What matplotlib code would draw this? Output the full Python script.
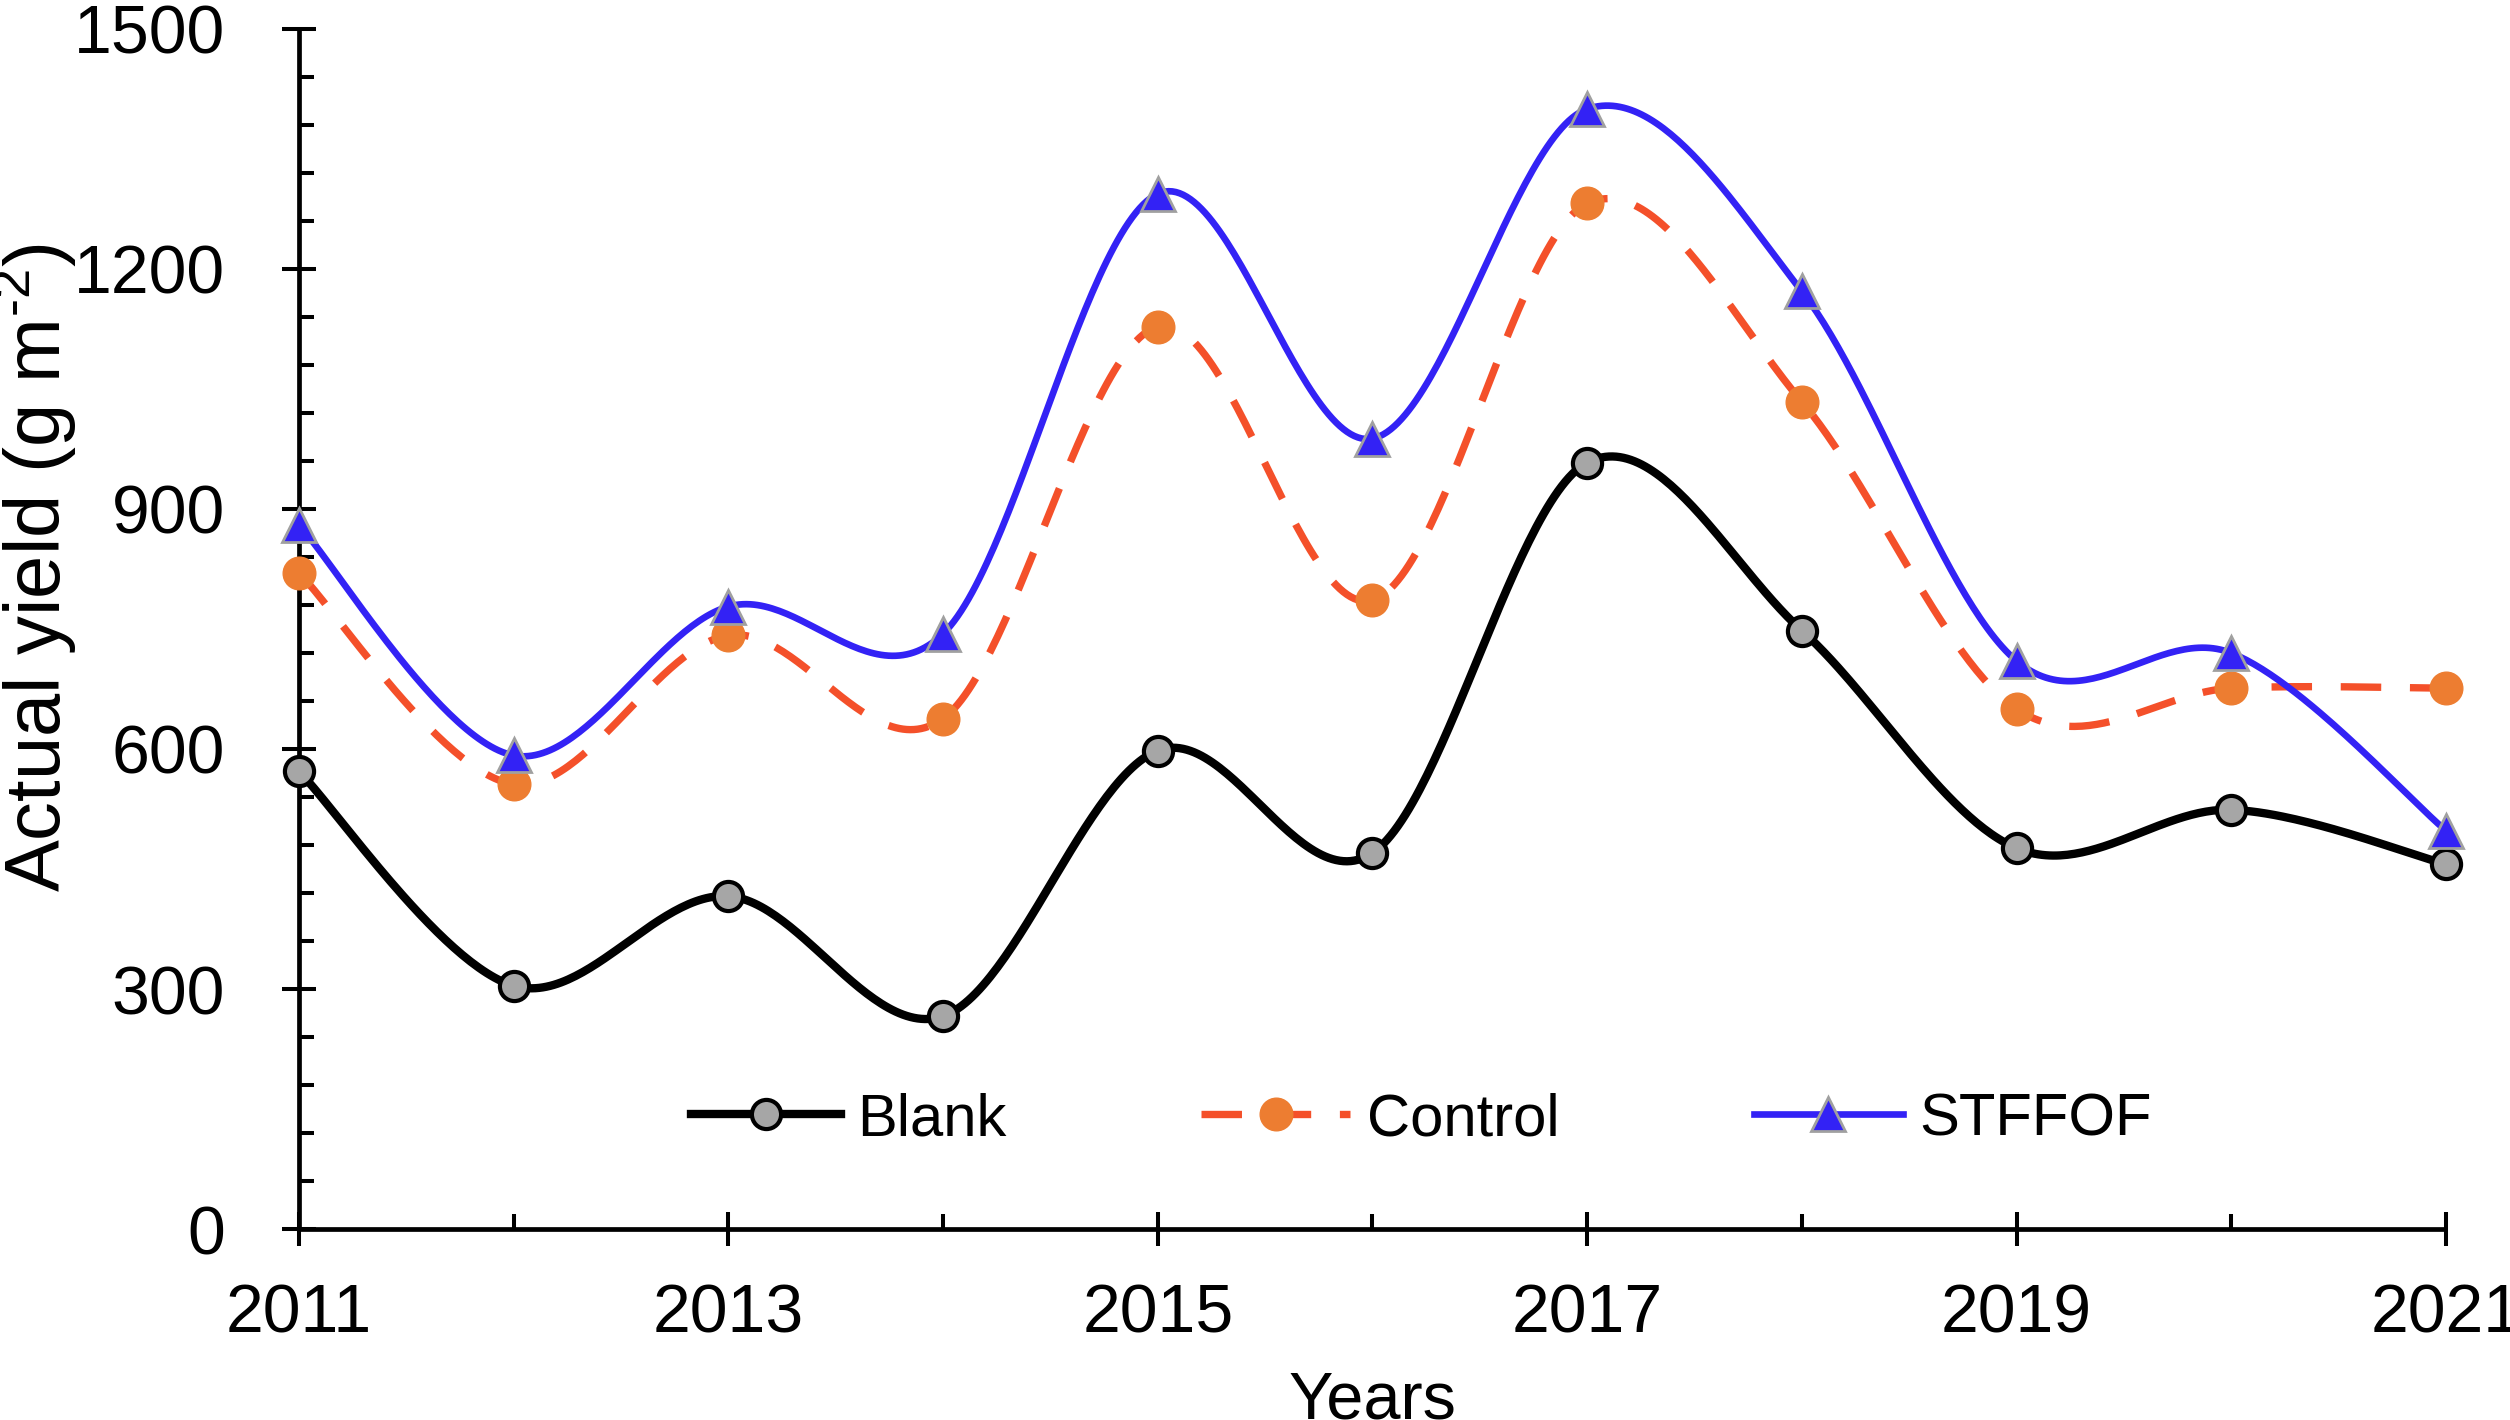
import numpy as np
import matplotlib
matplotlib.use("Agg")
import matplotlib.pyplot as plt
from matplotlib.ticker import FixedLocator, MultipleLocator
from matplotlib.lines import Line2D

plt.rcParams['font.family'] = ['Liberation Sans', 'DejaVu Sans']
plt.rcParams['mathtext.fontset'] = 'custom'
plt.rcParams['mathtext.rm'] = 'Liberation Sans'

years = [2011, 2012, 2013, 2014, 2015, 2016, 2017, 2018, 2019, 2020, 2021]
blank = [572, 304, 416, 266, 598, 470, 958, 748, 476, 524, 456]
control = [820, 556, 742, 638, 1128, 786, 1282, 1034, 650, 676, 676]
stffof = [880, 592, 778, 744, 1294, 988, 1400, 1172, 710, 720, 498]
major_years = [2011, 2013, 2015, 2017, 2019, 2021]
minor_years = [2012, 2014, 2016, 2018, 2020]


def smooth(x, y, n=60):
    x = np.asarray(x, float)
    y = np.asarray(y, float)
    P = np.column_stack([x, y])
    Pe = np.vstack([P[0], P, P[-1]])
    out = []
    t = np.linspace(0, 1, n)[:, None]
    for i in range(len(P) - 1):
        p0, p1, p2, p3 = Pe[i], Pe[i + 1], Pe[i + 2], Pe[i + 3]
        c1 = p1 + (p2 - p0) / 6.0
        c2 = p2 - (p3 - p1) / 6.0
        seg = ((1 - t) ** 3) * p1 + 3 * ((1 - t) ** 2) * t * c1 + 3 * (1 - t) * t ** 2 * c2 + t ** 3 * p2
        out.append(seg if i == 0 else seg[1:])
    S = np.vstack(out)
    return S[:, 0], S[:, 1]


fig = plt.figure(figsize=(25.1, 14.2), dpi=100)
ax = fig.add_axes([0.1191, 0.1345, 0.8554, 0.8451])

blk_c = '#000000'
ctl_line = '#F4502A'
ctl_mark = '#ED7D31'
blu = '#3322F5'
gray_fill = '#A6A6A6'
tri_edge = '#A0A0A0'

blank_kw = dict(color=blk_c, lw=6, marker='o', ms=21, mfc=gray_fill, mec='black', mew=3)
ctl_kw = dict(color=ctl_line, lw=5.3, dashes=(5.5, 3.9), marker='o', ms=23.5, mfc=ctl_mark, mec=ctl_mark, mew=1)
stf_kw = dict(color=blu, lw=4.8, marker='^', ms=24, mfc=blu, mec=tri_edge, mew=2)

xs, ys = smooth(years, blank)
ax.plot(xs, ys, color=blk_c, lw=6, solid_capstyle='round', zorder=3, clip_on=False)
ax.plot(years, blank, ls='none', marker='o', ms=21, mfc=gray_fill, mec='black', mew=3, zorder=4, clip_on=False)

xs, ys = smooth(years, control)
ax.plot(xs, ys, color=ctl_line, lw=5.3, dashes=(5.5, 3.9), dash_capstyle='butt', zorder=5, clip_on=False)
ax.plot(years, control, ls='none', marker='o', ms=23.5, mfc=ctl_mark, mec=ctl_mark, mew=1, zorder=6, clip_on=False)

xs, ys = smooth(years, stffof)
ax.plot(xs, ys, color=blu, lw=4.8, solid_capstyle='round', zorder=7, clip_on=False)
ax.plot(years, stffof, ls='none', marker='^', ms=24, mfc=blu, mec=tri_edge, mew=2, zorder=8, clip_on=False)

ax.set_xlim(2011, 2021)
ax.set_ylim(0, 1500)
ax.xaxis.set_major_locator(FixedLocator(major_years))
ax.xaxis.set_minor_locator(FixedLocator(minor_years))
ax.set_xticklabels([str(y) for y in major_years])
ax.yaxis.set_major_locator(MultipleLocator(300))
ax.yaxis.set_minor_locator(MultipleLocator(60))

for s in ['top', 'right']:
    ax.spines[s].set_visible(False)
for s in ['left', 'bottom']:
    ax.spines[s].set_linewidth(3.4)
    ax.spines[s].set_capstyle('butt')

ax.tick_params(axis='both', which='major', direction='inout', length=25, width=2.9, labelsize=49)
ax.tick_params(axis='both', which='minor', direction='in', length=11, width=2.9)
ax.tick_params(axis='y', which='major', pad=41)
ax.tick_params(axis='x', which='major', pad=26)

ax.set_ylabel('Actual yield (g m$^{\\mathregular{\u20102}}$)', fontsize=56)
ax.yaxis.set_label_coords(-0.1025, 0.551)
ax.set_xlabel('Years', fontsize=48)
ax.xaxis.set_label_coords(0.5, -0.1175)

handles = [Line2D([], [], **blank_kw), Line2D([], [], **ctl_kw), Line2D([], [], **stf_kw)]
ax.legend(handles, ['Blank', 'Control', 'STFFOF'], ncol=3, frameon=False,
          loc='center', bbox_to_anchor=(0.523, 0.091), fontsize=43,
          handlelength=2.5, handletextpad=0.28, columnspacing=3.25)

fig.savefig('out.png', dpi=100)
